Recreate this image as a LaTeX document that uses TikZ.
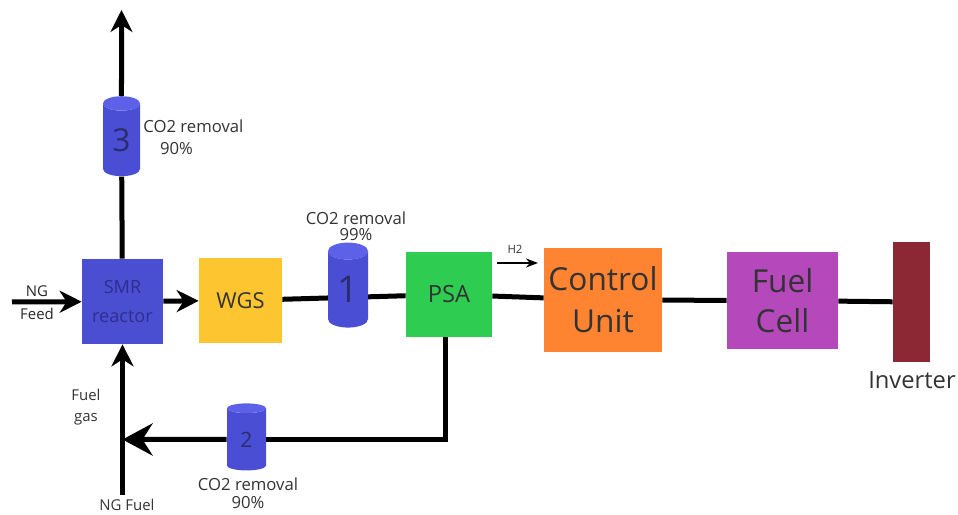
\documentclass[tikz,border=0pt]{standalone}
\usepackage{fontspec}
\setmainfont{Open Sans}
\usetikzlibrary{arrows.meta}
\usetikzlibrary{shapes.geometric}
\usetikzlibrary{backgrounds}

\definecolor{smrblue}{HTML}{4A4FD1}
\definecolor{wgsyellow}{HTML}{FDC52F}
\definecolor{psagreen}{HTML}{2ECD51}
\definecolor{ctrlorange}{HTML}{FF8432}
\definecolor{fcpurple}{HTML}{B548BB}
\definecolor{invred}{HTML}{8B2833}
\definecolor{tankblue}{HTML}{4A4ED4}
\definecolor{tanktop}{HTML}{5C61E8}
\definecolor{textgray}{HTML}{333333}
\definecolor{smrtext}{HTML}{2C2F8F}
\definecolor{tanktext}{HTML}{2A2C6E}

\begin{document}
\begin{tikzpicture}[x=0.2mm, y=-0.2mm, >={Stealth[width=4.4mm,length=4.4mm,inset=1.4mm]},
    unit/.style={rectangle, inner sep=0pt, text=textgray, align=center},
    tank/.style={cylinder, shape border rotate=90, aspect=0.8, inner sep=0pt, text=tanktext,
        cylinder uses custom fill, cylinder body fill=tankblue, cylinder end fill=tanktop},
    pipe/.style={line width=1mm},
    note/.style={text=textgray, align=center, inner sep=0pt, font=\fontsize{9.5}{9.5}\selectfont}]
    \useasboundingbox (0,0) rectangle (958,515);
    % main units
    \node[unit, fill=smrblue, minimum width=16.2mm, minimum height=17mm, text=smrtext,
        font=\fontsize{10.3}{16}\selectfont] (smr) at (122.5,301.5) {SMR\\reactor};
    \node[unit, fill=wgsyellow, minimum width=16.6mm, minimum height=17mm,
        font=\fontsize{12.5}{14}\selectfont] (wgs) at (240.5,300.5) {WGS};
    \node[unit, fill=psagreen, minimum width=17.2mm, minimum height=17mm,
        font=\fontsize{13.5}{16}\selectfont] (psa) at (449,294.5) {PSA};
    \node[unit, fill=ctrlorange, minimum width=23.6mm, minimum height=20.8mm,
        font=\fontsize{18}{24}\selectfont] (ctrl) at (603,300) {Control\\Unit};
    \node[unit, fill=fcpurple, minimum width=22.2mm, minimum height=19.4mm,
        font=\fontsize{18}{22.7}\selectfont] (fc) at (782.5,300.5) {Fuel\\Cell};
    \node[unit, fill=invred, minimum width=7.4mm, minimum height=24mm] (inv) at (911.5,302) {};
    % co2 tanks
    \node[tank, minimum width=8mm, minimum height=17mm, font=\fontsize{21}{21}\selectfont] (tank1) at (348,289.5) {\raisebox{-1mm}{1}};
    \node[tank, minimum width=7.8mm, minimum height=13.4mm, font=\fontsize{12}{12}\selectfont] (tank2) at (246.5,439.5) {2};
    \node[tank, minimum width=7.4mm, minimum height=16mm, font=\fontsize{18}{18}\selectfont] (tank3) at (121.5,140) {3};
    % labels
    \node[note, font=\fontsize{9.5}{9}\selectfont] (rem1) at (356,226) {CO2 removal\\99\%};
    \node[note, font=\fontsize{9.5}{10}\selectfont] (rem2) at (248,493) {CO2 removal\\90\%};
    \node[note, anchor=west, align=left, font=\fontsize{9.5}{12.5}\selectfont] (rem3) at (143,137) {CO2 removal\\\hspace*{1em}90\%};
    \node[note, font=\fontsize{8.5}{13}\selectfont, text=black!85] (feedlbl) at (37,303) {NG\\Feed};
    \node[note, font=\fontsize{8.5}{12}\selectfont] (gaslbl) at (86,407.5) {Fuel\\gas};
    \node[note, font=\fontsize{8.5}{10}\selectfont] (fuellbl) at (127,505) {NG Fuel};
    \node[note, font=\fontsize{6.5}{7}\selectfont] (h2lbl) at (515,249) {H2};
    \node[note, font=\fontsize{13.5}{14}\selectfont] (invlbl) at (912,380) {Inverter};
    % free ends
    \coordinate (feed) at (12,302);
    \coordinate (co2out) at (121.5,10);
    \coordinate (ngfuel) at (122.5,495);
    \coordinate (h2from) at (497,263);
    \coordinate (h2to) at (538,263);
    % main line
    \begin{scope}[on background layer]
        \draw[pipe] (wgs) -- (psa);
        \draw[pipe] (psa) -- (ctrl);
        \draw[pipe] (ctrl) -- (fc);
        \draw[pipe] (fc) -- (inv);
    \end{scope}
    \draw[pipe,->] (feed) -- (smr);
    \draw[pipe,->] (smr) -- (wgs);
    \draw[line width=0.4mm, -{Stealth[length=2.4mm,width=1.8mm]}] (h2from) -- (h2to);
    % co2 out on top
    \draw[pipe] (smr) -- (tank3);
    \draw[pipe,->] (tank3) -- (co2out);
    % fuel gas loop
    \draw[pipe] ([xshift=-0.8mm]psa.south) |- (tank2);
    \draw[pipe,-{Stealth[width=6.4mm,length=6mm,inset=2mm]}] (tank2) -- (tank2 -| smr);
    \draw[pipe,->] (ngfuel) -- (smr);
\end{tikzpicture}
\end{document}
